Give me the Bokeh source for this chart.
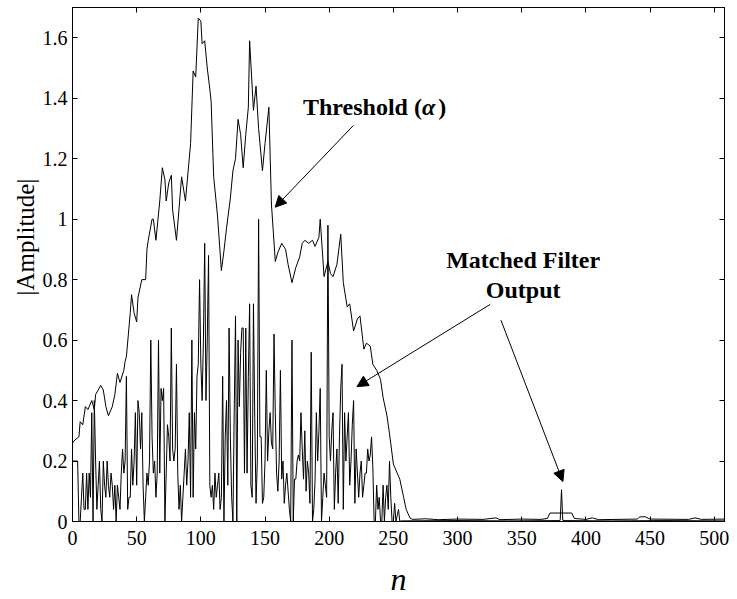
import math
from bokeh.plotting import figure
from bokeh.models import (FixedTicker, CustomJSTickFormatter, LinearAxis, Label, Title,
                          Arrow, NormalHead, Range1d)
from bokeh.embed import file_html
from bokeh.resources import INLINE

# ---------------- data ----------------
x_ticks = [0, 50, 100, 150, 200, 250, 300, 350, 400, 450, 500]
y_ticks = [0, 0.2, 0.4, 0.6, 0.8, 1.0, 1.2, 1.4, 1.6]

# matched filter output, n = 0 .. 255
mf_main = [
    0.2, 0.2, 0.2, 0.2, 0.2, 0.0, 0.0, 0.08, 0.16, 0.04,
    0.04, 0.16, 0.04, 0.16, 0.08, 0.36, 0.0, 0.4, 0.2, 0.04,
    0.12, 0.2, 0.04, 0.0, 0.2, 0.12, 0.08, 0.2, 0.12, 0.08,
    0.16, 0.12, 0.04, 0.12, 0.0, 0.12, 0.08, 0.04, 0.16, 0.24,
    0.16, 0.2, 0.48, 0.04, 0.08, 0.08, 0.24, 0.12, 0.2, 0.36,
    0.12, 0.4, 0.36, 0.24, 0.36, 0.12, 0.0, 0.08, 0.16, 0.12,
    0.2, 0.6, 0.28, 0.16, 0.2, 0.08, 0.16, 0.6, 0.16, 0.44,
    0.4, 0.44, 0.0, 0.16, 0.32, 0.28, 0.2, 0.64, 0.24, 0.2,
    0.24, 0.52, 0.16, 0.04, 0.12, 0.0, 0.08, 0.16, 0.24, 0.12,
    0.2, 0.36, 0.08, 0.6, 0.08, 0.36, 0.24, 0.48, 0.52, 0.8,
    0.52, 0.4, 0.6, 0.92, 0.4, 0.6, 0.88, 0.12, 0.08, 0.12,
    0.04, 0.16, 0.08, 0.12, 0.16, 0.04, 0.08, 0.48, 0.0, 0.28,
    0.4, 0.12, 0.64, 0.28, 0.08, 0.0, 0.36, 0.68, 0.0, 0.6,
    0.38, 0.56, 0.64, 0.64, 0.16, 0.64, 0.16, 0.48, 0.72, 0.12,
    0.08, 0.72, 0.34, 0.06, 0.2, 1.0, 0.28, 0.28, 0.06, 0.08,
    0.2, 0.5, 0.2, 0.3, 0.36, 0.26, 0.24, 0.62, 0.36, 0.16,
    0.1, 0.2, 0.5, 0.14, 0.2, 0.06, 0.12, 0.16, 0.1, 0.04,
    0.0, 0.6, 0.0, 0.14, 0.14, 0.2, 0.22, 0.2, 0.36, 0.24,
    0.14, 0.3, 0.1, 0.2, 0.16, 0.06, 0.56, 0.0, 0.04, 0.14,
    0.36, 0.2, 0.3, 0.44, 0.0, 0.08, 0.16, 0.12, 0.08, 0.98,
    0.28, 0.2, 0.3, 0.36, 0.04, 0.16, 0.24, 0.06, 0.28, 0.44,
    0.52, 0.04, 0.36, 0.2, 0.28, 0.36, 0.12, 0.2, 0.32, 0.4,
    0.06, 0.24, 0.16, 0.08, 0.16, 0.2, 0.08, 0.12, 0.16, 0.16,
    0.24, 0.2, 0.22, 0.28, 0.18, 0.0, 0.0, 0.12, 0.04, 0.08,
    0.0, 0.0, 0.12, 0.0, 0.08, 0.12, 0.04, 0.2, 0.08, 0.0,
    0.0, 0.06, 0.0, 0.02, 0.04, 0.0,
]
mf_tail_n = [256, 300, 340, 379, 380, 381, 382, 383, 420, 460, 508]
mf_tail_v = [0.002, 0.003, 0.002, 0.003, 0.004, 0.105, 0.004, 0.003, 0.002, 0.003, 0.002]

# threshold (alpha)
thr_n = [0, 2, 5, 6, 8, 10, 12, 15, 17, 18, 22, 24, 26, 28, 31, 33, 35, 37, 40, 41,
         42, 45, 46, 48, 50, 51, 54, 57, 58, 59, 62, 63, 65, 68, 70, 72, 73, 75, 77, 78,
         81, 85, 88, 92, 94, 96, 98, 100, 101, 103, 105, 107, 108, 110, 113, 116, 118, 120, 123, 125,
         127, 129, 131, 133, 135, 137, 138, 141, 143, 145, 148, 150, 153, 155, 158, 160, 163, 166, 168, 171,
         174, 177, 179, 181, 184, 187, 189, 192, 193, 196, 199, 201, 203, 206, 209, 211, 214, 216, 219, 222,
         224, 227, 229, 232, 234, 237, 240, 242, 245, 247, 250, 253, 255, 258, 260, 263,
         265, 275, 285, 300, 320, 330, 333, 350, 365, 370, 372, 389, 391, 400, 405, 410,
         440, 442, 446, 450, 480, 485, 490, 508]
thr_v = [0.26, 0.27, 0.28, 0.33, 0.32, 0.38, 0.37, 0.40, 0.37, 0.42, 0.45, 0.435, 0.38, 0.35, 0.38, 0.42, 0.49, 0.46, 0.50, 0.53,
         0.545, 0.69, 0.75, 0.69, 0.66, 0.74, 0.80, 0.80, 0.90, 0.93, 1.00, 1.00, 0.93, 1.06, 1.17, 1.13, 1.06, 1.12, 1.145, 1.03,
         0.93, 1.14, 1.06, 1.25, 1.49, 1.47, 1.665, 1.655, 1.58, 1.59, 1.50, 1.43, 1.39, 1.14, 1.01, 0.83, 0.895, 0.97, 1.07, 1.16,
         1.20, 1.33, 1.28, 1.17, 1.28, 1.37, 1.59, 1.36, 1.44, 1.30, 1.16, 1.25, 1.37, 1.05, 0.86, 0.89, 0.92, 0.90, 0.85, 0.79,
         0.84, 0.875, 0.92, 0.93, 0.92, 0.93, 0.91, 0.94, 1.0, 0.81, 0.86, 0.82, 0.81, 0.85, 0.95, 0.79, 0.71, 0.72, 0.63, 0.67,
         0.68, 0.57, 0.59, 0.58, 0.52, 0.50, 0.47, 0.41, 0.35, 0.29, 0.19, 0.16, 0.14, 0.08, 0.04, 0.011,
         0.007, 0.009, 0.006, 0.008, 0.007, 0.012, 0.006, 0.008, 0.007, 0.01, 0.028, 0.028, 0.01, 0.007, 0.012, 0.006,
         0.008, 0.015, 0.016, 0.008, 0.007, 0.012, 0.007, 0.008]

# ---------------- figure ----------------
FONT = "Liberation Serif"

p = figure(width=737, height=599, output_backend="svg", toolbar_location=None,
           x_range=Range1d(0, 508), y_range=Range1d(0, 1.7),
           min_border_left=72, min_border_right=13, min_border_top=7, min_border_bottom=77,
           background_fill_color="white", border_fill_color="white",
           outline_line_color="black", outline_line_width=1)
p.grid.visible = False

mf_n = list(range(len(mf_main))) + mf_tail_n
mf_v = mf_main + mf_tail_v
p.line(mf_n, mf_v, line_color="black", line_width=1)
p.line(thr_n, thr_v, line_color="black", line_width=1)

yfmt = CustomJSTickFormatter(code="return String(Math.round(tick*10)/10);")
blank = CustomJSTickFormatter(code="return '';")


def style(ax):
    ax.major_tick_in = 5
    ax.major_tick_out = 0
    ax.minor_tick_in = 0
    ax.minor_tick_out = 0
    ax.axis_line_color = "black"
    ax.major_tick_line_color = "black"
    ax.major_label_text_font = FONT
    ax.major_label_text_color = "black"
    ax.major_label_text_font_size = "20px"


p.xaxis.ticker = FixedTicker(ticks=x_ticks)
p.yaxis.ticker = FixedTicker(ticks=y_ticks)
p.yaxis.formatter = yfmt
style(p.xaxis[0])
style(p.yaxis[0])
p.xaxis.major_label_standoff = 9
p.yaxis.major_label_standoff = 5

# x axis title
p.xaxis.axis_label = "n"
p.xaxis.axis_label_text_font = FONT
p.xaxis.axis_label_text_font_style = "italic"
p.xaxis.axis_label_text_font_size = "32px"
p.xaxis.axis_label_text_color = "black"
p.xaxis.axis_label_standoff = 13

top = LinearAxis(ticker=FixedTicker(ticks=x_ticks), formatter=blank)
right = LinearAxis(ticker=FixedTicker(ticks=y_ticks), formatter=blank)
for ax in (top, right):
    style(ax)
    ax.major_label_standoff = 0
    ax.major_label_text_font_size = "1px"
p.add_layout(top, "above")
p.add_layout(right, "right")

# y axis title as a left-side title (positioned along the axis)
p.add_layout(Title(text="|Amplitude|", align="left", offset=226, standoff=2,
                   text_font=FONT, text_font_size="25px", text_font_style="normal",
                   text_color="black"), "left")

# annotations
ann = dict(text_font=FONT, text_font_size="24px", text_color="black",
           text_baseline="alphabetic")
p.add_layout(Label(x=179.6, y=1.371, text="Threshold (", text_align="left",
                   text_font_style="bold", **ann))
p.add_layout(Label(x=272.4, y=1.371, text="\u03b1", text_align="left",
                   text_font_style="bold italic", **ann))
p.add_layout(Label(x=284.9, y=1.371, text=")", text_align="left",
                   text_font_style="bold", **ann))
p.add_layout(Label(x=351.1, y=0.864, text="Matched Filter", text_align="center",
                   text_font_style="bold", **ann))
p.add_layout(Label(x=351.1, y=0.765, text="Output", text_align="center",
                   text_font_style="bold", **ann))


def arrow(x0, y0, x1, y1):
    p.add_layout(Arrow(end=NormalHead(size=11, fill_color="black", line_color="black",
                                      line_width=1),
                       x_start=x0, y_start=y0, x_end=x1, y_end=y1,
                       line_color="black", line_width=1))


arrow(218.9, 1.310, 157.9, 1.0395)
arrow(325.4, 0.718, 221.6, 0.446)
arrow(333.8, 0.666, 382.1, 0.132)

open("out.html", "w").write(file_html(p, INLINE))
